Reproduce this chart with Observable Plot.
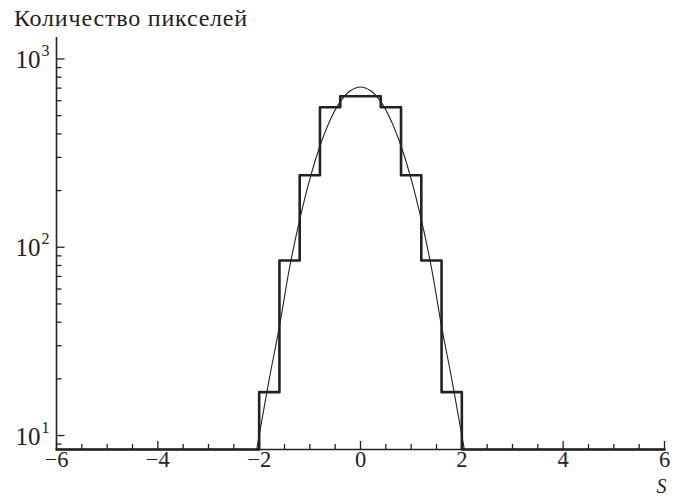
<!DOCTYPE html>
<html><head><meta charset="utf-8">
<script src="https://cdn.jsdelivr.net/npm/d3@7"></script>
<script src="https://cdn.jsdelivr.net/npm/@observablehq/plot@0.6"></script>
<style>
body{margin:0;background:#fff;}
#title{height:30px;box-sizing:border-box;padding:6px 0 0 14px;font-size:24px;line-height:24px;letter-spacing:0.8px;color:#222;white-space:nowrap;}
</style></head><body>
<div id="title">Количество пикселей</div>
<div id="chart"></div>
<script>
// Histogram: bin edges and pixel counts (0 = empty bin, drawn on the floor)
const binEdges  = [-6, -2, -1.6, -1.2, -0.8, -0.4, 0.4, 0.8, 1.2, 1.6, 2, 6];
const binCounts = [0, 17, 85, 241, 554, 634, 554, 241, 85, 17, 0];
// Smooth reference curve
const curveS      = [-2.05, -1.8, -1.6, -1.4, -1.2, -1.0, -0.8, -0.6, -0.4, -0.2, 0, 0.2, 0.4, 0.6, 0.8, 1.0, 1.2, 1.4, 1.6, 1.8, 2.05];
const curveCounts = [8.4, 20, 38, 78, 140, 230, 345, 473, 593, 678, 710, 678, 593, 473, 345, 230, 140, 78, 38, 20, 8.4];
// Axes
const xDomain = [-6, 6];
const yDomain = [8.43, 1300];
const xMajorTicks = [-6, -4, -2, 0, 2, 4, 6];
const xTickLabels = ["−6", "−4", "−2", "0", "2", "4", "6"];
const xMinorTicks = [-5.5, -5, -4.5, -3.5, -3, -2.5, -1.5, -1, -0.5, 0.5, 1, 1.5, 2.5, 3, 3.5, 4.5, 5, 5.5];
const yMajorTicks = [10, 100, 1000];
const yTickBase = "10";
const yTickExponents = ["1", "2", "3"];
const yMinorTicks = [9, 20, 30, 40, 50, 60, 70, 80, 90, 200, 300, 400, 500, 600, 700, 800, 900];
const xAxisTitle = "S";

// pick the first installed serif face
const serifCandidates = ["Liberation Serif", "DejaVu Serif", "Noto Serif", "Times New Roman", "Tinos", "FreeSerif"];
const ctx = document.createElement("canvas").getContext("2d");
const probe = "Количество пикселей 1234567890 mmmWWWiii";
function widthIn(f) { ctx.font = f; return ctx.measureText(probe).width; }
let serifName = null;
for (const name of serifCandidates) {
  const a = widthIn(`40px "${name}", monospace`), b = widthIn("40px monospace");
  const c = widthIn(`40px "${name}", sans-serif`), d = widthIn("40px sans-serif");
  if (a !== b || c !== d) { serifName = name; break; }
}
const serif = serifName ? `"${serifName}", serif` : "serif";
document.getElementById("title").style.fontFamily = serif;

const hist = binEdges.map((e, i) => ({s: e, n: binCounts[Math.min(i, binCounts.length - 1)]}));
const fit = curveS.map((s, i) => ({s, n: curveCounts[i]}));
const onFloor = n => (n > 0 ? n : yDomain[0]);
const ink = "#222";

const chart = Plot.plot({
  width: 685, height: 471,
  marginTop: 7, marginRight: 21, marginBottom: 52, marginLeft: 56,
  style: {fontFamily: serif, fontSize: "22px", color: ink, background: "#fff", overflow: "visible"},
  x: {domain: xDomain, label: null},
  y: {type: "log", domain: yDomain, label: null},
  marks: [
    Plot.axisX({ticks: xMinorTicks, tickSize: -5, tickFormat: () => "", label: null, strokeWidth: 1.3, stroke: ink}),
    Plot.axisX({ticks: xMajorTicks, tickSize: -8, tickPadding: 10, tickFormat: d => xTickLabels[xMajorTicks.indexOf(d)], label: null, strokeWidth: 1.3, stroke: ink, fill: ink, fontSize: 22.5, fontFamily: serif}),
    Plot.axisY({ticks: yMinorTicks, tickSize: -5.5, tickFormat: () => "", label: null, strokeWidth: 1.3, stroke: ink}),
    Plot.axisY({ticks: yMajorTicks, tickSize: -8.5, tickFormat: () => "", label: null, strokeWidth: 1.3, stroke: ink}),
    Plot.text(yMajorTicks, {x: xDomain[0], y: d => d, text: () => yTickBase, textAnchor: "end", dx: -16, dy: 1, fontSize: 25, fontFamily: serif, fill: ink}),
    Plot.text(yMajorTicks, {x: xDomain[0], y: d => d, text: d => yTickExponents[yMajorTicks.indexOf(d)], textAnchor: "start", dx: -15, dy: -8, fontSize: 16, fontFamily: serif, fill: ink}),
    Plot.ruleX([xDomain[0]], {stroke: ink, strokeWidth: 1.6}),
    Plot.ruleY([yDomain[0]], {stroke: ink, strokeWidth: 1.6}),
    Plot.line(fit, {x: "s", y: "n", curve: "catmull-rom", stroke: ink, strokeWidth: 1.1}),
    Plot.line(hist, {x: "s", y: d => onFloor(d.n), curve: "step-after", stroke: ink, strokeWidth: 2.6}),
    Plot.text([xAxisTitle], {text: d => d, frameAnchor: "bottom-right", textAnchor: "middle", lineAnchor: "top", dx: -3, dy: 29, fontStyle: "italic", fontSize: 20, fontFamily: serif, fill: ink})
  ]
});
document.getElementById("chart").appendChild(chart);
</script>
</body></html>
